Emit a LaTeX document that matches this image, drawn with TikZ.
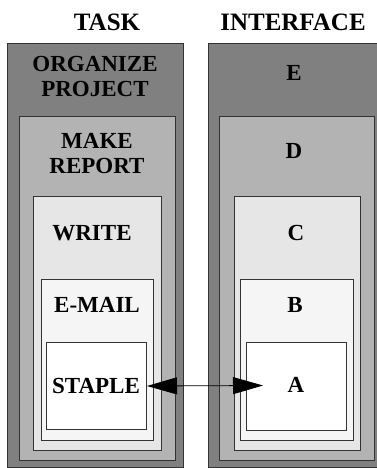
\documentclass[tikz,border=0pt]{standalone}
\usepackage{fontspec}
\setmainfont{Liberation Serif}
\usepackage{tikz}
\usetikzlibrary{arrows.meta, positioning}
\definecolor{edge}{HTML}{333333}
\definecolor{levelone}{HTML}{808080}
\definecolor{leveltwo}{HTML}{B3B3B3}
\definecolor{levelthree}{HTML}{E6E6E6}
\definecolor{levelfour}{HTML}{F5F5F5}

\begin{document}
\begin{tikzpicture}[x=1pt, y=-1pt,
    layer/.style={draw=edge, fill=#1, line width=1pt, rectangle, anchor=north west, inner sep=0pt},
    caption/.style={font=\fontsize{23}{25}\selectfont\bfseries, align=center, inner sep=0pt},
    title/.style={font=\fontsize{25}{27}\selectfont\bfseries, inner sep=0pt},
    link/.style={line width=0.8pt, {Triangle[length=30pt,width=17pt]}-{Triangle[length=30pt,width=17pt]}}]
  \useasboundingbox[clip] (0,0) rectangle (377,468);

  % column titles
  \node[title] (task) at (107,22) {TASK};
  \node[title] (iface) at (293,22) {INTERFACE};

  % task column
  \node[layer=levelone, minimum width=176pt, minimum height=424pt] (organize) at (7,43) {};
  \node[layer=leveltwo, minimum width=156pt, minimum height=344pt] (report) at (19,116) {};
  \node[layer=levelthree, minimum width=128pt, minimum height=254pt] (write) at (33,196) {};
  \node[layer=levelfour, minimum width=112pt, minimum height=161pt] (email) at (41,279) {};
  \node[layer=white, minimum width=100pt, minimum height=87pt] (staple) at (46,342) {};
  \node[caption] at (95,76) {ORGANIZE\\PROJECT};
  \node[caption] at (97,154) {MAKE\\REPORT};
  \node[caption] at (92,233) {WRITE};
  \node[caption] at (97,305) {E-MAIL};
  \node[caption] at (96,386) {STAPLE};

  % interface column
  \node[layer=levelone, minimum width=180pt, minimum height=424pt] (e) at (208,43) {};
  \node[layer=leveltwo, minimum width=155pt, minimum height=344pt] (d) at (219,116) {};
  \node[layer=levelthree, minimum width=126pt, minimum height=254pt] (c) at (234,196) {};
  \node[layer=levelfour, minimum width=113pt, minimum height=161pt] (b) at (240,279) {};
  \node[layer=white, minimum width=100pt, minimum height=88pt] (a) at (246,342) {};
  \node[caption] at (294,73) {E};
  \node[caption] at (294,151) {D};
  \node[caption] at (296,233) {C};
  \node[caption] at (295,305) {B};
  \node[caption] at (296,385) {A};

  % task to interface
  \coordinate (hit) at (263,385.5);
  \draw[link] (staple.east) -- (hit);
\end{tikzpicture}
\end{document}
